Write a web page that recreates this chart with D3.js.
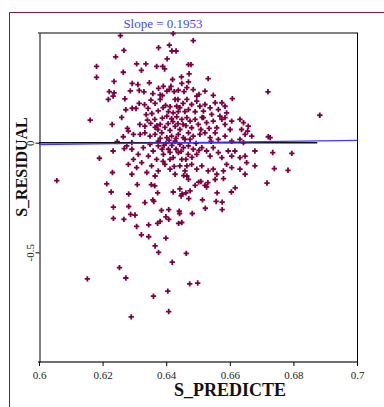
<!DOCTYPE html>
<html>
<head>
<meta charset="utf-8">
<script src="https://cdn.jsdelivr.net/npm/d3@7"></script>
<style>
  body { margin: 0; background: #fff; }
  text { font-family: "Liberation Serif", "Times New Roman", serif; }
</style>
</head>
<body>
<div id="chart"></div>
<script>
// residuals vs predicted
var xTicks = [0.6, 0.62, 0.64, 0.66, 0.68, 0.7];
var yTicks = [0, -0.5];
var xTitle = "S_PREDICTE";
var yTitle = "S_RESIDUAL";
var slope = 0.1953;
var intercept = -0.1260;
var zeroLineEnd = 0.6875;

// [predicted, residual]
var points = [
  [0.6256,0.488],[0.6422,0.497],[0.6267,0.421],[0.6376,0.433],[0.6410,0.445],[0.6418,0.418],
  [0.6431,0.418],[0.6241,0.391],[0.6403,0.382],[0.6181,0.348],[0.6307,0.359],[0.6336,0.359],
  [0.6370,0.348],[0.6389,0.348],[0.6395,0.336],[0.6322,0.330],[0.6265,0.321],[0.6181,0.298],
  [0.6236,0.279],[0.6221,0.233],[0.6236,0.227],[0.6218,0.197],[0.6233,0.212],[0.6270,0.200],
  [0.6260,0.115],[0.6161,0.103],[0.6230,0.083],[0.6265,0.027],[0.6246,0.005],[0.6233,-0.038],
  [0.6268,-0.027],[0.6190,-0.071],[0.6485,0.465],[0.6470,0.356],[0.6478,0.356],[0.6472,0.314],
  [0.6720,0.232],[0.6883,0.125],[0.6721,0.027],[0.6727,0.023],[0.6735,-0.045],[0.6795,-0.049],
  [0.6679,-0.038],[0.6740,-0.118],[0.6783,-0.126],[0.6717,-0.184],
  [0.6056,-0.173],[0.6231,-0.136],[0.6213,-0.188],[0.6227,-0.225],[0.6234,-0.294],[0.6234,-0.345],
  [0.6267,-0.350],[0.6307,-0.382],[0.6322,-0.420],[0.6345,-0.375],[0.6345,-0.429],[0.6365,-0.471],
  [0.6376,-0.500],[0.6399,-0.435],[0.6419,-0.545],[0.6253,-0.570],[0.6152,-0.621],[0.6273,-0.617],
  [0.6405,-0.677],[0.6360,-0.700],[0.6408,-0.770],[0.6290,-0.794],[0.6463,-0.505],[0.6474,-0.644],
  [0.6499,-0.640],[0.6439,-0.368],[0.6449,-0.364],[0.6373,-0.368],[0.6381,-0.359],
  [0.6293,0.270],[0.6311,0.265],[0.6347,0.273],[0.6420,0.288],[0.6448,0.300],[0.6415,0.257],
  [0.6449,0.270],[0.6376,0.248],[0.6391,0.257],[0.6287,0.236],[0.6315,0.238],[0.6330,0.232],
  [0.6358,0.224],[0.6381,0.218],[0.6388,0.215],[0.6402,0.235],[0.6410,0.242],[0.6425,0.233],
  [0.6438,0.239],[0.6352,0.194],[0.6315,0.179],[0.6332,0.173],[0.6293,0.157],[0.6305,0.156],
  [0.6273,0.150],[0.6398,0.170],[0.6412,0.164],[0.6433,0.166],[0.6375,0.145],[0.6407,0.142],
  [0.6422,0.136],[0.6438,0.142],[0.6341,0.103],[0.6364,0.106],[0.6388,0.112],[0.6402,0.121],
  [0.6417,0.109],[0.6433,0.118],[0.6449,0.106],[0.6317,0.083],[0.6333,0.075],[0.6351,0.088],
  [0.6278,0.065],
  [0.6381,0.083],[0.6396,0.070],[0.6412,0.056],[0.6428,0.074],[0.6443,0.060],[0.6453,0.083],
  [0.6459,0.015],[0.6443,-0.008],[0.6418,-0.012],[0.6399,-0.003],[0.6387,-0.030],[0.6431,-0.030],
  [0.6469,-0.053],[0.6412,-0.076],[0.6390,-0.085],[0.6349,-0.008],[0.6365,0.070],[0.6437,0.197],
  [0.6453,0.179],[0.6459,0.142],[0.6443,0.160],[0.6428,0.197],
  [0.6470,0.277],[0.6485,0.242],[0.6496,0.212],[0.6522,0.235],[0.6532,0.292],[0.6548,0.216],
  [0.6575,0.182],[0.6608,0.201],[0.6465,0.197],[0.6480,0.174],[0.6496,0.189],[0.6506,0.166],
  [0.6522,0.174],[0.6538,0.159],[0.6554,0.182],[0.6564,0.151],[0.6585,0.166],[0.6590,0.136],
  [0.6470,0.151],[0.6491,0.141],[0.6517,0.144],[0.6543,0.129],[0.6569,0.121],[0.6585,0.114],
  [0.6606,0.098],[0.6465,0.114],[0.6475,0.098],[0.6491,0.106],[0.6501,0.083],[0.6517,0.114],
  [0.6527,0.091],[0.6548,0.098],[0.6559,0.068],[0.6575,0.106],[0.6585,0.083],[0.6601,0.060],
  [0.6632,0.106],[0.6643,0.091],[0.6637,0.060],[0.6658,0.075],[0.6480,0.068],[0.6509,0.060],
  [0.6470,0.045],[0.6485,0.030],[0.6506,0.038],[0.6522,0.045],[0.6538,0.023],[0.6554,0.045],
  [0.6564,0.015],[0.6585,0.030],[0.6606,0.007],[0.6632,0.015],[0.6643,0.000],[0.6648,0.038],
  [0.6669,0.030],[0.6656,0.053],[0.6470,-0.015],[0.6485,-0.030],[0.6496,-0.053],[0.6512,-0.023],
  [0.6527,-0.038],[0.6538,-0.061],[0.6548,-0.023],[0.6564,-0.045],[0.6575,-0.068],[0.6595,-0.038],
  [0.6606,-0.061],[0.6616,-0.038],[0.6632,-0.068],[0.6648,-0.061],[0.6653,-0.091],[0.6465,-0.106],
  [0.6480,-0.099],[0.6496,-0.121],[0.6512,-0.106],[0.6532,-0.129],[0.6548,-0.121],[0.6559,-0.144],
  [0.6580,-0.129],[0.6590,-0.099],[0.6606,-0.114],[0.6632,-0.121],[0.6648,-0.144],[0.6679,-0.106],
  [0.6281,0.053],[0.6297,0.038],[0.6318,0.038],[0.6333,0.045],[0.6349,0.030],[0.6365,0.038],
  [0.6386,0.045],[0.6402,0.023],[0.6417,0.030],[0.6438,0.038],[0.6454,0.023],[0.6292,0.000],
  [0.6375,0.007],[0.6428,0.007],[0.6276,-0.015],[0.6292,-0.030],[0.6312,-0.053],[0.6328,-0.023],
  [0.6344,-0.061],[0.6359,-0.038],[0.6375,-0.015],[0.6391,-0.053],[0.6407,-0.030],[0.6422,-0.068],
  [0.6438,-0.045],[0.6454,-0.023],[0.6297,-0.076],[0.6370,-0.076],[0.6449,-0.076],[0.6281,-0.099],
  [0.6307,-0.114],[0.6323,-0.091],[0.6339,-0.136],[0.6354,-0.106],[0.6375,-0.129],[0.6396,-0.099],
  [0.6412,-0.121],[0.6428,-0.144],[0.6443,-0.106],[0.6459,-0.129],[0.6292,-0.144],[0.6365,-0.152],
  [0.6282,-0.234],[0.6282,-0.291],[0.6288,-0.327],[0.6302,-0.330],[0.6309,-0.191],[0.6333,-0.273],
  [0.6358,-0.261],[0.6361,-0.268],[0.6353,-0.191],[0.6364,-0.197],[0.6373,-0.229],[0.6385,-0.309],
  [0.6408,-0.305],[0.6399,-0.338],[0.6408,-0.350],[0.6441,-0.312],[0.6442,-0.323],[0.6482,-0.323],
  [0.6514,-0.261],[0.6523,-0.299],[0.6557,-0.268],[0.6576,-0.271],[0.6576,-0.305],[0.6422,-0.225],
  [0.6443,-0.211],[0.6447,-0.243],[0.6450,-0.234],[0.6462,-0.229],[0.6475,-0.220],[0.6471,-0.255],
  [0.6560,-0.229],[0.6605,-0.225],[0.6617,-0.206],[0.6580,-0.164],[0.6554,-0.168],[0.6522,-0.195],
  [0.6531,-0.182],[0.6502,-0.180],[0.6491,-0.195],[0.6455,-0.150],[0.6465,-0.152],[0.6509,-0.177],
  [0.6527,-0.202],[0.6470,-0.167],
  [0.6355,0.133],[0.6371,0.078],[0.6390,0.160],[0.6406,0.087],[0.6421,0.096],[0.6437,0.087],
  [0.6462,0.078],[0.6475,0.015],[0.6494,-0.003],[0.6381,0.020],[0.6393,-0.012],[0.6409,0.010],
  [0.6431,0.020],[0.6447,-0.040],[0.6462,-0.076],[0.6481,-0.067],[0.6412,-0.044],[0.6374,0.060],
  [0.6337,0.128],[0.6343,0.156],[0.6365,0.179],[0.6381,0.197],[0.6456,0.233],[0.6465,0.251],
  [0.6503,0.220],[0.6513,0.115],[0.6535,0.065],[0.6541,0.006],[0.6503,-0.035],[0.6425,-0.108]
];

var fullWidth = 384;
var fullHeight = 407;

var svg = d3.select("#chart").append("svg")
  .attr("width", fullWidth)
  .attr("height", fullHeight);

// outer maroon frame (top + left only)
svg.append("path")
  .attr("d", "M9.5,407V12.5H384")
  .attr("fill", "none")
  .attr("stroke", "#7a1a48")
  .attr("stroke-width", 1);

var x = d3.scaleLinear().domain([0.6, 0.7]).range([39, 357]);
var y = d3.scaleLinear().domain([-1, 0.5]).range([362, 33]);

// plot box
svg.append("line").attr("x1", 38).attr("x2", 358).attr("y1", y(0.5)).attr("y2", y(0.5))
  .attr("stroke", "#808080").attr("stroke-width", 2);
svg.append("line").attr("x1", 38).attr("x2", 358).attr("y1", y(-1)).attr("y2", y(-1))
  .attr("stroke", "#707070").attr("stroke-width", 2);
svg.append("line").attr("x1", x(0.7) + 0.5).attr("x2", x(0.7) + 0.5).attr("y1", y(0.5)).attr("y2", y(-1))
  .attr("stroke", "#000").attr("stroke-width", 1);

// x axis
var xAxis = d3.axisBottom(x).tickValues(xTicks).tickSize(4).tickSizeOuter(0)
  .tickFormat(function(d) { return String(d); });
var gx = svg.append("g").attr("transform", "translate(0," + y(-1) + ")").call(xAxis);
gx.select(".domain").remove();
gx.selectAll("line").attr("stroke", "#000");
gx.selectAll("text").attr("font-size", 11).attr("fill", "#222")
  .attr("font-family", "Liberation Serif").attr("dy", "0.9em");

// y axis
var yAxis = d3.axisLeft(y).tickValues(yTicks).tickSize(4).tickSizeOuter(0)
  .tickFormat(function(d) { return String(d); });
var gy = svg.append("g").attr("transform", "translate(" + (x(0.6) + 0.5) + ",0)").call(yAxis);
gy.select(".domain").attr("stroke", "#000");
gy.selectAll("line").attr("stroke", "#000");
gy.selectAll("text")
  .attr("font-size", 11).attr("fill", "#222").attr("font-family", "Liberation Serif")
  .attr("x", null).attr("dy", null)
  .attr("text-anchor", "middle")
  .attr("transform", "translate(-5.5,0) rotate(-90)");

// points
var marker = d3.symbol().type(d3.symbolCross).size(16);
svg.append("g").selectAll("path")
  .data(points)
  .join("path")
  .attr("d", marker)
  .attr("transform", function(d) { return "translate(" + x(d[0]) + "," + y(d[1]) + ")"; })
  .attr("fill", "#7d0040");

// zero line + fitted line
svg.append("line")
  .attr("x1", x(0.6)).attr("x2", x(zeroLineEnd))
  .attr("y1", y(0)).attr("y2", y(0))
  .attr("stroke", "#111").attr("stroke-width", 1.5);
svg.append("line")
  .attr("x1", x(0.6)).attr("x2", x(0.7))
  .attr("y1", y(slope * 0.6 + intercept)).attr("y2", y(slope * 0.7 + intercept))
  .attr("stroke", "#3a3aff").attr("stroke-width", 1.2);

// titles
svg.append("text")
  .attr("x", 163).attr("y", 28)
  .attr("text-anchor", "middle")
  .attr("font-size", 13)
  .attr("fill", "#4646ff")
  .text("Slope = " + slope);

svg.append("text")
  .attr("x", 230).attr("y", 396)
  .attr("text-anchor", "middle")
  .attr("font-size", 18).attr("font-weight", "bold").attr("fill", "#111")
  .text(xTitle);

svg.append("text")
  .attr("transform", "translate(27,167) rotate(-90)")
  .attr("text-anchor", "middle")
  .attr("font-size", 16).attr("font-weight", "bold").attr("fill", "#111")
  .text(yTitle);
</script>
</body>
</html>
